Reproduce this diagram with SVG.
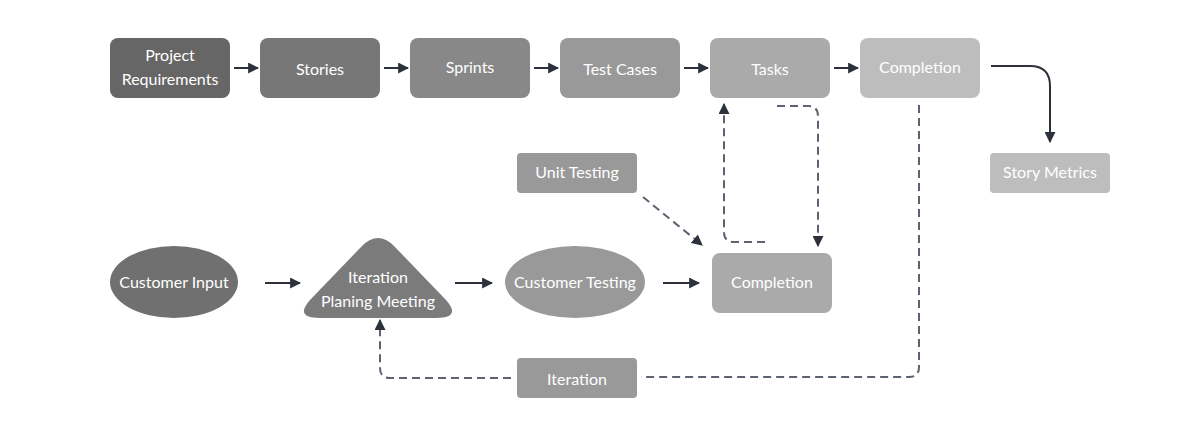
<svg xmlns="http://www.w3.org/2000/svg" width="1200" height="427" viewBox="0 0 1200 427">
<defs>
<style>
text{font-family:Lato,"Open Sans","Liberation Sans",sans-serif;font-size:16px;fill:#fff;text-anchor:middle;dominant-baseline:central}
.solid{fill:none;stroke:#2c313c;stroke-width:2}
.dash{fill:none;stroke:#5d6270;stroke-width:2;stroke-dasharray:8 5}
</style>
<marker id="ah" viewBox="0 0 10 10" refX="9" refY="5" markerWidth="11" markerHeight="11" markerUnits="userSpaceOnUse" orient="auto">
<path d="M0,0 L10,5 L0,10 Z" fill="#2c313c"/>
</marker>
</defs>
<rect width="1200" height="427" fill="#fff"/>
<g id="connectors">
<path class="solid" d="M234,68 H258" marker-end="url(#ah)"/>
<path class="solid" d="M384,68 H408" marker-end="url(#ah)"/>
<path class="solid" d="M534,68 H558" marker-end="url(#ah)"/>
<path class="solid" d="M684,68 H708" marker-end="url(#ah)"/>
<path class="solid" d="M834,68 H858" marker-end="url(#ah)"/>
<path class="solid" d="M991,66 H1030 Q1050,66 1050,86 V142" marker-end="url(#ah)"/>
<path class="solid" d="M265,283 H300" marker-end="url(#ah)"/>
<path class="solid" d="M455,283 H492" marker-end="url(#ah)"/>
<path class="solid" d="M663,283 H699" marker-end="url(#ah)"/>
<path class="dash" d="M643,197 L702,245" marker-end="url(#ah)"/>
<path class="dash" d="M765,242 H734 Q724,242 724,232 V104" marker-end="url(#ah)"/>
<path class="dash" d="M777,106 H808 Q818,106 818,116 V246" marker-end="url(#ah)"/>
<path class="dash" d="M919,105 V367 Q919,377 909,377 H641"/>
<path class="dash" d="M511,378 H390 Q380,378 380,368 V320" marker-end="url(#ah)"/>
</g>
<g id="project-requirements"><rect x="110" y="38" width="120" height="60" rx="8" fill="#666"/><text x="170" y="54">Project</text><text x="170" y="78">Requirements</text></g>
<g id="stories"><rect x="260" y="38" width="120" height="60" rx="8" fill="#777"/><text x="320" y="68">Stories</text></g>
<g id="sprints"><rect x="410" y="38" width="120" height="60" rx="8" fill="#888"/><text x="470" y="66">Sprints</text></g>
<g id="test-cases"><rect x="560" y="38" width="120" height="60" rx="8" fill="#999"/><text x="620" y="68">Test Cases</text></g>
<g id="tasks"><rect x="710" y="38" width="120" height="60" rx="8" fill="#aaa"/><text x="770" y="68">Tasks</text></g>
<g id="completion-top"><rect x="860" y="38" width="120" height="60" rx="8" fill="#bdbdbd"/><text x="920" y="66">Completion</text></g>
<g id="story-metrics"><rect x="990" y="153" width="120" height="40" rx="4" fill="#bdbdbd"/><text x="1050" y="171">Story Metrics</text></g>
<g id="unit-testing"><rect x="517" y="153" width="120" height="40" rx="4" fill="#999"/><text x="577" y="171">Unit Testing</text></g>
<g id="customer-input"><ellipse cx="174" cy="282" rx="64" ry="36" fill="#707070"/><text x="174" y="281">Customer Input</text></g>
<g id="iteration-planning-meeting"><path d="M362,246 Q378,230 394,246 L446,300 Q462,318 436,318 H320 Q294,318 310,300 Z" fill="#7b7b7b"/><text x="378" y="276">Iteration</text><text x="378" y="300">Planing Meeting</text></g>
<g id="customer-testing"><ellipse cx="575" cy="282" rx="70" ry="36" fill="#999"/><text x="575" y="281">Customer Testing</text></g>
<g id="completion-bottom"><rect x="712" y="253" width="120" height="60" rx="8" fill="#aaa"/><text x="772" y="281">Completion</text></g>
<g id="iteration"><rect x="517" y="358" width="120" height="40" rx="4" fill="#999"/><text x="577" y="378">Iteration</text></g>
</svg>
